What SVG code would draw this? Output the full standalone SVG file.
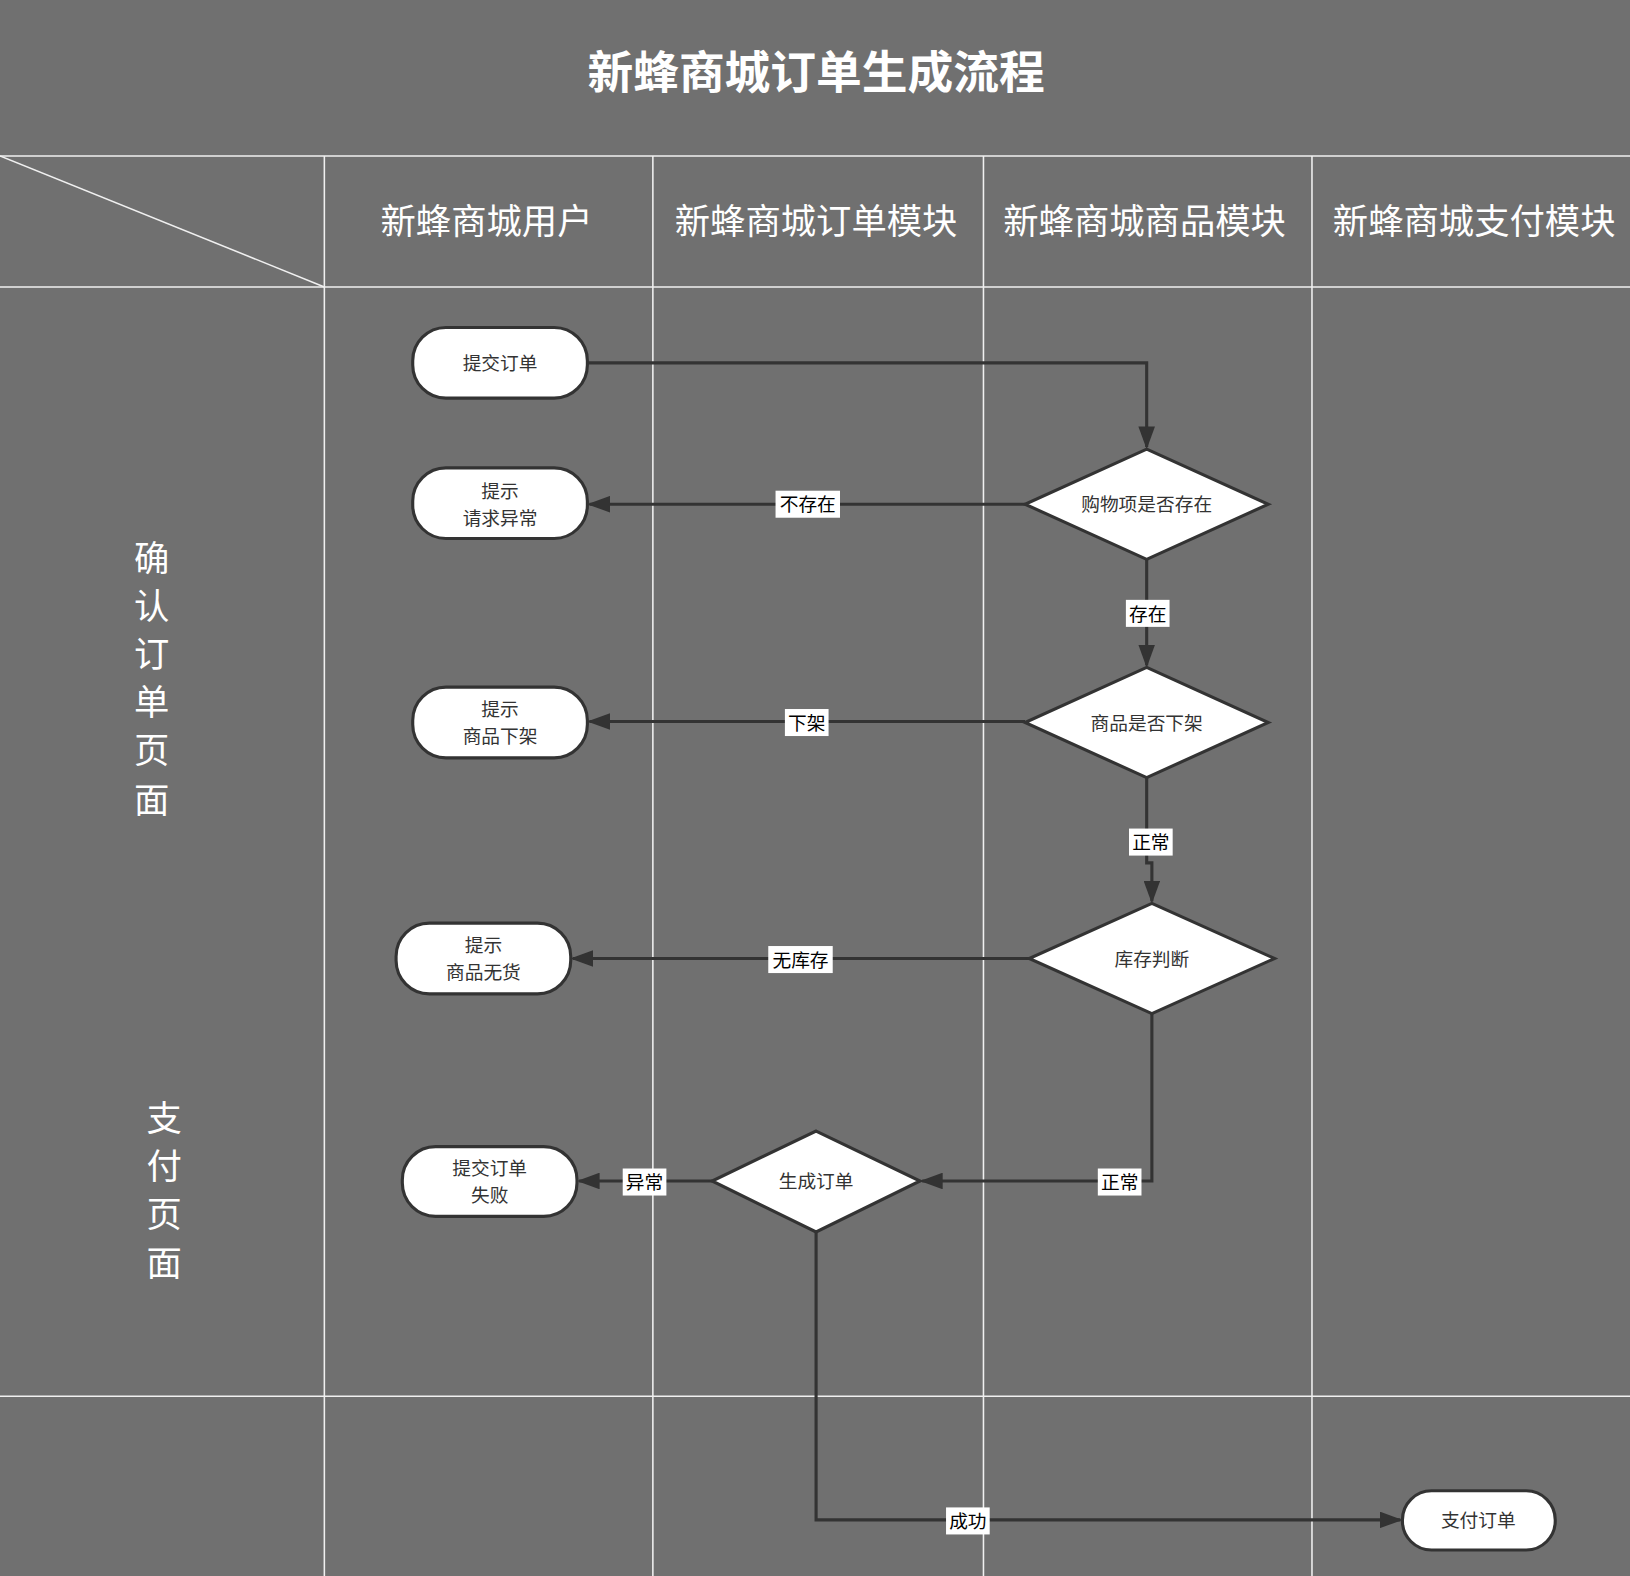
<svg xmlns="http://www.w3.org/2000/svg" width="1630" height="1576" viewBox="0 0 1630 1576">
<style>
text{font-family:"Noto Sans CJK SC","Noto Sans",sans-serif}
.h{fill:#fff;font-size:34px;text-anchor:middle}
.lane{stroke:#f0f0f0;stroke-width:1.5}
.n{fill:#fff;stroke:#333;stroke-width:3}
.t{fill:#333;font-size:18px;text-anchor:middle}
.c{fill:none;stroke:#333;stroke-width:3}
.lb{fill:#fff}
.lt{fill:#000;font-size:18px;text-anchor:middle}
</style>
<defs><marker id="a" viewBox="0 0 10 10" refX="9" refY="5" markerWidth="7" markerHeight="7" markerUnits="userSpaceOnUse" orient="auto"><path d="M0,0L10,5L0,10z" fill="#333"/></marker>
<marker id="ar" viewBox="0 0 10 10" refX="9" refY="5" markerWidth="22" markerHeight="16" markerUnits="userSpaceOnUse" orient="auto" preserveAspectRatio="none"><path d="M0,0L10,5L0,10z" fill="#333"/></marker></defs>
<rect width="1630" height="1576" fill="#707070"/>
<g transform="scale(1.0396)">
<text x="785" y="86" class="h" style="font-size:44px;font-weight:bold">新蜂商城订单生成流程</text>
<g id="grid">
<line class="lane" x1="0" y1="150" x2="1568" y2="150"/>
<line class="lane" x1="0" y1="276" x2="1568" y2="276"/>
<line class="lane" x1="0" y1="1343" x2="1568" y2="1343"/>
<line class="lane" x1="0" y1="150" x2="312" y2="276"/>
<line class="lane" x1="312" y1="150" x2="312" y2="1516"/>
<line class="lane" x1="628" y1="150" x2="628" y2="1516"/>
<line class="lane" x1="946" y1="150" x2="946" y2="1516"/>
<line class="lane" x1="1262" y1="150" x2="1262" y2="1516"/>
<text x="468" y="225" class="h">新蜂商城用户</text>
<text x="785" y="225" class="h">新蜂商城订单模块</text>
<text x="1101" y="225" class="h">新蜂商城商品模块</text>
<text x="1418" y="225" class="h">新蜂商城支付模块</text>
<g class="h"><text x="146" y="549" class="h">确</text><text x="146" y="595" class="h">认</text><text x="146" y="642" class="h">订</text><text x="146" y="688" class="h">单</text><text x="146" y="734" class="h">页</text><text x="146" y="782" class="h">面</text>
<text x="158" y="1088" class="h">支</text><text x="158" y="1134" class="h">付</text><text x="158" y="1180" class="h">页</text><text x="158" y="1227" class="h">面</text></g>
</g>
<g id="connectors">
<path class="c" marker-end="url(#ar)" d="M565 349H1103V430"/>
<path class="c" marker-end="url(#ar)" d="M986 485H567"/>
<path class="c" marker-end="url(#ar)" d="M1103 538V640"/>
<path class="c" marker-end="url(#ar)" d="M986 694H567"/>
<path class="c" marker-end="url(#ar)" d="M1103 748V830H1108V867"/>
<path class="c" marker-end="url(#ar)" d="M990 922H551"/>
<path class="c" marker-end="url(#ar)" d="M1108 975V1136H887"/>
<path class="c" marker-end="url(#ar)" d="M685 1136H557"/>
<path class="c" marker-end="url(#ar)" d="M785 1185V1462H1347"/>
<rect class="lb" x="746" y="472" width="62" height="26"/><text class="lt" x="777" y="492">不存在</text>
<rect class="lb" x="1083" y="577" width="42" height="26"/><text class="lt" x="1104" y="597">存在</text>
<rect class="lb" x="755" y="682" width="42" height="26"/><text class="lt" x="776" y="702">下架</text>
<rect class="lb" x="1086" y="797" width="42" height="26"/><text class="lt" x="1107" y="817">正常</text>
<rect class="lb" x="739" y="910" width="62" height="26"/><text class="lt" x="770" y="930">无库存</text>
<rect class="lb" x="1056" y="1124" width="42" height="26"/><text class="lt" x="1077" y="1144">正常</text>
<rect class="lb" x="599" y="1124" width="42" height="26"/><text class="lt" x="620" y="1144">异常</text>
<rect class="lb" x="910" y="1450" width="42" height="26"/><text class="lt" x="931" y="1470">成功</text>
</g>
<g id="n1"><rect class="n" x="397" y="315" width="168" height="68" rx="32"/><text class="t" x="481" y="356">提交订单</text></g>
<g id="n2"><rect class="n" x="397" y="450" width="168" height="68" rx="32"/><text class="t" x="481" y="479">提示</text><text class="t" x="481" y="505">请求异常</text></g>
<g id="n3"><rect class="n" x="397" y="661" width="168" height="68" rx="32"/><text class="t" x="481" y="689">提示</text><text class="t" x="481" y="715">商品下架</text></g>
<g id="n4"><rect class="n" x="381" y="888" width="168" height="68" rx="32"/><text class="t" x="465" y="916">提示</text><text class="t" x="465" y="942">商品无货</text></g>
<g id="n5"><rect class="n" x="387" y="1103" width="168" height="67" rx="32"/><text class="t" x="471" y="1130">提交订单</text><text class="t" x="471" y="1156">失败</text></g>
<g id="n6"><rect class="n" x="1349" y="1434" width="147" height="57" rx="28"/><text class="t" x="1422" y="1469">支付订单</text></g>
<g id="d1"><polygon class="n" points="1103,432 1220,485 1103,538 986,485"/><text class="t" x="1103" y="492">购物项是否存在</text></g>
<g id="d2"><polygon class="n" points="1103,642 1220,695 1103,748 986,695"/><text class="t" x="1103" y="702">商品是否下架</text></g>
<g id="d3"><polygon class="n" points="1108,869 1226,922 1108,975 990,922"/><text class="t" x="1108" y="929">库存判断</text></g>
<g id="d4"><polygon class="n" points="785,1088 885,1136 785,1185 685,1136"/><text class="t" x="785" y="1143">生成订单</text></g>
</g>
</svg>
